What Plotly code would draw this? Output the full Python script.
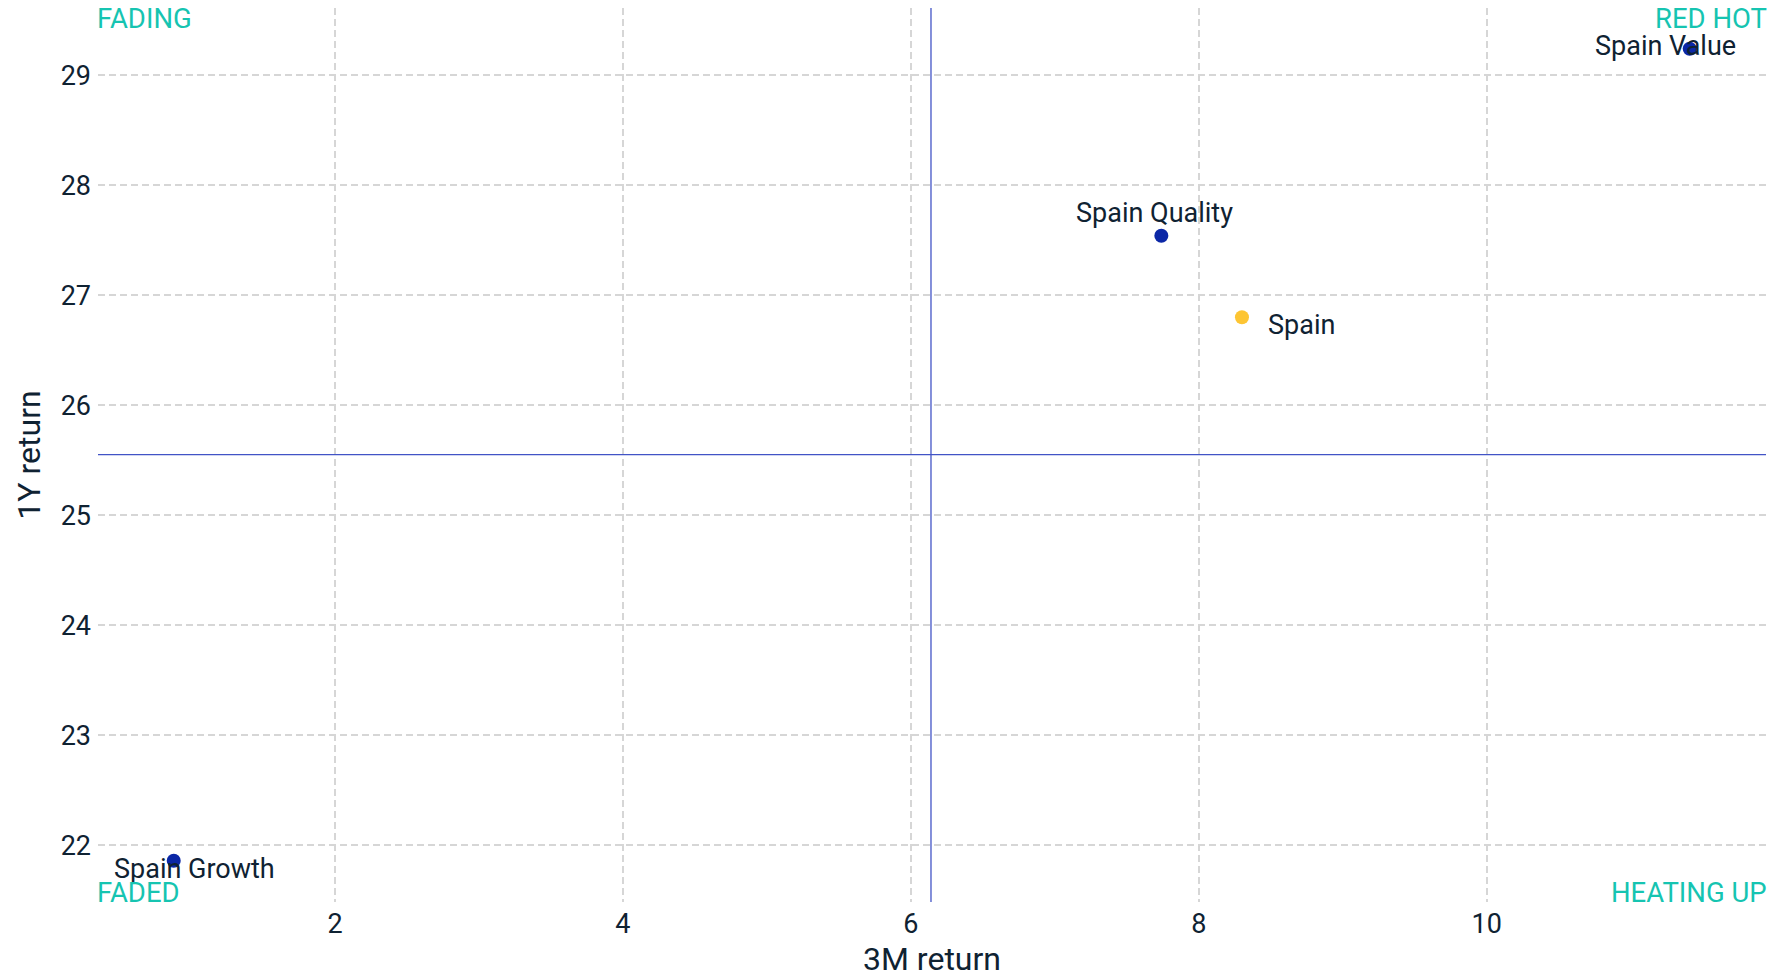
import plotly.graph_objects as go

# Market / style data: 3-month and 1-year returns (%)
names = ["Spain Value", "Spain Quality", "Spain", "Spain Growth"]
ret_3m = [11.41, 7.74, 8.30, 0.88]
ret_1y = [29.24, 27.54, 26.80, 21.86]
is_market = [False, False, True, False]

# Quadrant split lines
split_x = 6.14
split_y = 25.55

x_ticks = [2, 4, 6, 8, 10]
y_ticks = [22, 23, 24, 25, 26, 27, 28, 29]

# Label offsets (px) relative to each point
label_dx = [-24, -7, 60, 21]
label_dy = [3, 23, -8, -8]

quadrants = [
    ("FADING", 0, 0.9877, "left", -3),
    ("RED HOT", 1, 0.9877, "right", 3),
    ("FADED", 0, 0.0106, "left", -3),
    ("HEATING UP", 1, 0.0106, "right", 3),
]

NAVY = "#0B27A6"
GOLD = "#FDC533"
TEAL = "#16C4B1"
INK = "#0F2232"
LINE = "#4254C6"
FONT = "Roboto"

x_range = [0.354, 11.94]
y_range = [21.485, 29.61]

fig = go.Figure()

fig.add_trace(go.Scatter(
    x=ret_3m, y=ret_1y, mode="markers",
    marker=dict(size=14, color=[GOLD if m else NAVY for m in is_market]),
    hoverinfo="text", text=names, showlegend=False,
))

# Split lines
fig.add_shape(type="line", xref="x", yref="paper", x0=split_x, x1=split_x, y0=0, y1=1,
              line=dict(color=LINE, width=1.3))
fig.add_shape(type="line", xref="paper", yref="y", x0=0, x1=1, y0=split_y, y1=split_y,
              line=dict(color=LINE, width=1.3))

annotations = []
for n, x, y, dx, dy in zip(names, ret_3m, ret_1y, label_dx, label_dy):
    annotations.append(dict(x=x, y=y, xref="x", yref="y", text=n, showarrow=False,
                            xshift=dx, yshift=dy, font=dict(family=FONT, size=27, color=INK)))
for text, px, py, anchor, sx in quadrants:
    annotations.append(dict(x=px, y=py, xref="paper", yref="paper", text=text, showarrow=False,
                            xanchor=anchor, yanchor="middle", xshift=sx,
                            font=dict(family=FONT, size=27.5, color=TEAL)))

grid = dict(showgrid=True, gridcolor="#D6D6D6", gridwidth=2, griddash="7px,4px",
            zeroline=False, showline=False, ticks="",
            tickfont=dict(family=FONT, size=27, color=INK))

fig.update_layout(
    width=1773, height=978,
    margin=dict(l=98, r=7, t=8, b=76),
    paper_bgcolor="white", plot_bgcolor="white",
    xaxis=dict(range=x_range, tickvals=x_ticks, ticklabelstandoff=3,
               title=dict(text="3M return", font=dict(family=FONT, size=32, color=INK), standoff=10),
               **grid),
    yaxis=dict(range=y_range, tickvals=y_ticks, ticklabelstandoff=6,
               title=dict(text="1Y return", font=dict(family=FONT, size=32, color=INK), standoff=10),
               **grid),
    annotations=annotations,
    font=dict(family=FONT),
)

fig.write_html("out.html")
